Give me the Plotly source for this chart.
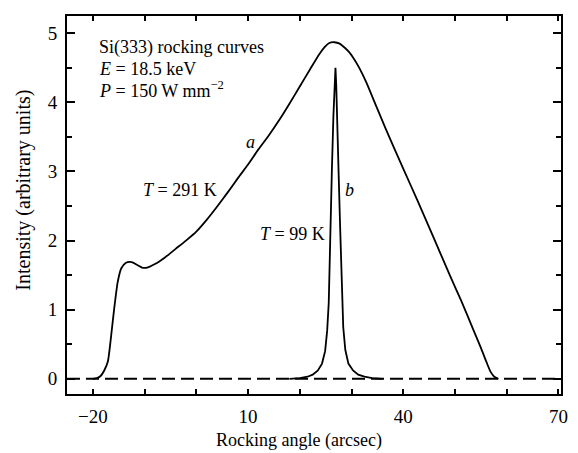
import plotly.graph_objects as go

# Curve a: T = 291 K
a_x = [-20, -19.2, -18.5, -17.8, -17.1, -16.5, -15.9, -15.2, -14.5, -13.6, -12.5, -11.5, -10.5, -9.5,
       -8, -6, -4, -2, 0, 2, 4, 6, 8, 10, 12, 14, 16, 18, 20, 22, 23.8, 24.8, 25.7, 26.7,
       27.7, 28.7, 29.5, 30.3, 31.5, 32.8, 34.7, 36.6, 40, 42.7, 46, 49, 51.2, 53.5, 55, 56.1, 56.9, 57.6, 58.4]
a_y = [0, 0.01, 0.04, 0.12, 0.25, 0.6, 1.0, 1.4, 1.6, 1.68, 1.69, 1.65, 1.61, 1.61,
       1.66, 1.76, 1.88, 2.0, 2.13, 2.3, 2.49, 2.69, 2.9, 3.1, 3.32, 3.52, 3.74, 3.98, 4.23, 4.48, 4.7, 4.8, 4.86, 4.87,
       4.85, 4.79, 4.73, 4.65, 4.5, 4.3, 3.96, 3.62, 3.04, 2.59, 2.02, 1.5, 1.13, 0.72, 0.45, 0.24, 0.1, 0.03, 0]

# Curve b: T = 99 K
b_x = [18, 20, 21.5, 22.5, 23.5, 24.3, 24.9, 25.3, 25.6, 25.85, 26.2, 26.5, 26.75, 26.9,
       27.05, 27.25, 27.5, 27.8, 28.1, 28.4, 28.8, 29.4, 30.3, 31.3, 32.5, 34, 36]
b_y = [0, 0.01, 0.03, 0.06, 0.12, 0.22, 0.4, 0.7, 1.1, 2.0, 3.0, 3.8, 4.25, 4.5,
       4.25, 3.8, 3.0, 2.2, 1.3, 0.75, 0.42, 0.22, 0.12, 0.06, 0.03, 0.01, 0]

# Baseline
base_x = [-25, 70.5]
base_y = [0, 0]

x_tickvals = [-20, 10, 40, 70]
x_ticktext = ["\u221220", "10", "40", "70"]
y_tickvals = [0, 1, 2, 3, 4, 5]

FONT = "Liberation Serif"

fig = go.Figure()
fig.add_trace(go.Scatter(x=base_x, y=base_y, mode="lines",
                         line=dict(color="black", width=2, dash="13px,6px"),
                         hoverinfo="skip", showlegend=False))
fig.add_trace(go.Scatter(x=a_x, y=a_y, mode="lines",
                         line=dict(color="black", width=1.8, shape="spline", smoothing=0.6),
                         showlegend=False))
fig.add_trace(go.Scatter(x=b_x, y=b_y, mode="lines",
                         line=dict(color="black", width=1.8),
                         showlegend=False))

fig.update_xaxes(range=[-25, 70.5], tickvals=x_tickvals, ticktext=x_ticktext,
                 ticks="inside", ticklen=5, tickwidth=1.5, tickcolor="black",
                 minor=dict(dtick=10, tick0=-20, ticks="inside", ticklen=5, tickwidth=1.5, tickcolor="black"),
                 showline=True, linecolor="black", linewidth=1.8, mirror="ticks",
                 showgrid=False, zeroline=False, ticklabelstandoff=4,
                 tickfont=dict(family=FONT, size=19, color="black"))
fig.update_yaxes(range=[-0.22, 5.25], tickvals=y_tickvals,
                 ticks="inside", ticklen=8, tickwidth=1.5, tickcolor="black",
                 minor=dict(dtick=0.5, tick0=0, ticks="inside", ticklen=5, tickwidth=1.5, tickcolor="black"),
                 showline=True, linecolor="black", linewidth=1.8, mirror="ticks",
                 showgrid=False, zeroline=False, ticklabelstandoff=4,
                 tickfont=dict(family=FONT, size=19, color="black"))

anns = [
    dict(x=-19.24, y=4.8, text="Si(333) rocking curves", xanchor="left"),
    dict(x=-19.24, y=4.49, text="<i>E</i> = 18.5 keV", xanchor="left"),
    dict(x=-19.24, y=4.18, text="<i>P</i> = 150 W mm<sup>\u22122</sup>", xanchor="left"),
    dict(x=10.5, y=3.42, text="<i>a</i>", xanchor="center"),
    dict(x=-3.2, y=2.73, text="<i>T</i> = 291 K", xanchor="center"),
    dict(x=29.6, y=2.73, text="<i>b</i>", xanchor="center"),
    dict(x=18.5, y=2.1, text="<i>T</i> = 99 K", xanchor="center"),
]
for a in anns:
    fig.add_annotation(xref="x", yref="y", showarrow=False, yanchor="middle",
                       font=dict(family=FONT, size=18, color="black"), **a)

# axis titles placed in paper coordinates (plot area: x 67..568, y 16..394)
fig.add_annotation(xref="paper", yref="paper", x=(302 - 67) / 501, y=(394 - 440) / 378,
                   yanchor="middle", xanchor="center",
                   text="Rocking angle (arcsec)", showarrow=False,
                   font=dict(family=FONT, size=18, color="black"))
fig.add_annotation(xref="paper", yref="paper", x=(22 - 67) / 501, y=(394 - 190) / 378,
                   xanchor="center", yanchor="middle",
                   text="Intensity (arbitrary units)", showarrow=False, textangle=-90,
                   font=dict(family=FONT, size=20, color="black"))

fig.update_layout(width=578, height=453, margin=dict(l=67, r=10, t=16, b=59),
                  paper_bgcolor="white", plot_bgcolor="white")

fig.write_html("out.html", config={"displayModeBar": False},
               post_script="document.body.style.margin='0';")
